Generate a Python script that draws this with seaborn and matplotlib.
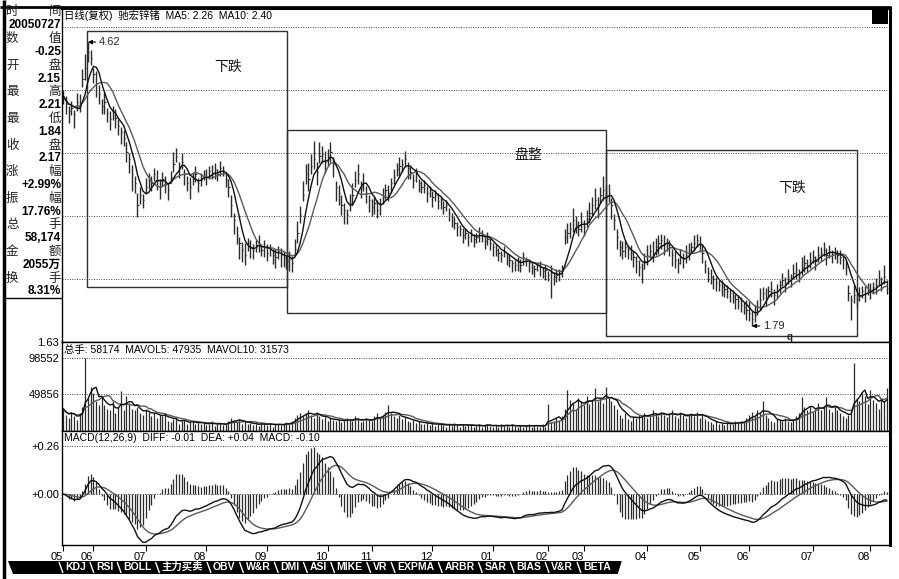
import numpy as np
import pandas as pd
import matplotlib
matplotlib.use("Agg")
import matplotlib.pyplot as plt
import seaborn as sns
from matplotlib.patches import Rectangle, Polygon
from matplotlib.lines import Line2D

# ---------------- data ----------------
close_c = [
    408, 400, 393, 396, 390, 402, 398, 425, 436, 452,
    446, 430, 421, 410, 398, 402, 391, 385, 392, 386,
    378, 372, 366, 352, 345, 330, 322, 300, 310, 305,
    318, 326, 322, 330, 324, 318, 326, 320, 315, 328,
    340, 348, 336, 342, 330, 322, 318, 326, 330, 322,
    325, 330, 328, 333, 331, 335, 330, 336, 334, 326,
    318, 300, 285, 270, 262, 255, 250, 262, 258, 255,
    260, 262, 255, 258, 252, 256, 250, 248, 254, 250,
    248, 244, 246, 242, 256, 272, 290, 310, 330, 326,
    338, 345, 332, 348, 350, 342, 346, 352, 340, 318,
    312, 300, 295, 290, 302, 310, 325, 330, 318, 322,
    312, 305, 298, 302, 295, 300, 308, 315, 312, 322,
    328, 335, 338, 340, 345, 336, 332, 325, 330, 322,
    318, 320, 312, 315, 308, 310, 304, 305, 298, 300,
    292, 288, 282, 278, 276, 270, 272, 268, 270, 266,
    268, 272, 270, 264, 266, 262, 258, 255, 252, 250,
    254, 248, 245, 242, 240, 244, 240, 248, 245, 242,
    238, 236, 240, 238, 234, 235, 230, 232, 228, 230,
    232, 234, 268, 272, 276, 285, 280, 276, 283, 278,
    286, 292, 300, 305, 298, 310, 315, 308, 312, 300,
    285, 268, 258, 254, 258, 255, 252, 248, 244, 238,
    236, 244, 250, 254, 252, 258, 262, 265, 260, 262,
    258, 250, 245, 242, 248, 246, 250, 255, 258, 262,
    265, 262, 252, 240, 232, 228, 226, 222, 220, 218,
    216, 214, 212, 208, 206, 204, 200, 198, 195, 192,
    186, 190, 198, 205, 212, 208, 214, 216, 210, 214,
    220, 225, 222, 228, 226, 232, 236, 230, 238, 242,
    240, 245, 248, 244, 250, 252, 255, 250, 254, 250,
    252, 250, 248, 245, 238, 212, 205, 210, 206, 210,
    214, 212, 216, 214, 218, 220, 226, 222, 228, 217,
]
high_above_close_c = [
    6, 8, 5, 7, 4, 9, 12, 10, 14, 10,
    8, 6, 12, 9, 7, 10, 5, 8, 6, 9,
    7, 5, 8, 10, 6, 9, 7, 12, 8, 6,
    9, 5, 7, 6, 10, 8, 6, 9, 7, 5,
    12, 8, 6, 9, 5, 7, 10, 6, 8, 5,
    6, 4, 7, 5, 8, 6, 5, 7, 4, 6,
    8, 10, 7, 9, 6, 8, 12, 5, 7, 6,
    5, 8, 6, 7, 9, 5, 6, 8, 5, 7,
    6, 5, 8, 7, 10, 12, 9, 14, 10, 15,
    12, 18, 10, 14, 8, 11, 9, 10, 7, 6,
    8, 10, 7, 6, 9, 12, 8, 10, 6, 9,
    7, 5, 8, 6, 10, 7, 9, 6, 8, 5,
    7, 6, 9, 5, 8, 6, 7, 5, 6, 4,
    6, 5, 7, 4, 6, 5, 8, 4, 6, 5,
    5, 4, 6, 5, 4, 7, 5, 4, 6, 5,
    4, 6, 5, 4, 7, 5, 4, 6, 5, 4,
    5, 4, 6, 3, 5, 4, 6, 5, 3, 4,
    5, 4, 3, 6, 4, 5, 4, 8, 5, 6,
    4, 6, 8, 10, 7, 12, 9, 8, 10, 7,
    9, 11, 8, 12, 10, 8, 14, 12, 9, 7,
    6, 8, 7, 10, 6, 5, 8, 6, 5, 7,
    6, 8, 10, 7, 12, 9, 8, 6, 10, 5,
    7, 6, 9, 5, 8, 6, 10, 7, 5, 8,
    6, 7, 9, 5, 6, 8, 4, 6, 5, 7,
    5, 6, 4, 7, 5, 6, 8, 5, 10, 12,
    8, 10, 7, 12, 6, 9, 5, 8, 6, 7,
    5, 7, 6, 8, 5, 9, 7, 6, 10, 8,
    6, 8, 7, 5, 9, 6, 8, 7, 6, 5,
    6, 5, 7, 4, 6, 8, 5, 10, 6, 8,
    5, 7, 6, 8, 5, 7, 9, 6, 12, 8,
]
low_below_close_c = [
    8, 10, 12, 7, 14, 9, 6, 8, 12, 10,
    7, 9, 14, 10, 8, 12, 9, 11, 8, 10,
    9, 12, 8, 10, 14, 16, 10, 12, 9, 8,
    7, 10, 8, 6, 9, 12, 7, 8, 10, 6,
    8, 6, 9, 7, 10, 8, 12, 6, 7, 9,
    6, 5, 8, 7, 5, 9, 6, 7, 5, 8,
    10, 12, 14, 9, 16, 12, 10, 8, 11, 9,
    7, 9, 6, 10, 8, 7, 9, 11, 8, 12,
    10, 8, 12, 9, 7, 10, 8, 6, 9, 12,
    8, 10, 12, 7, 9, 11, 8, 10, 12, 14,
    12, 10, 14, 9, 8, 10, 7, 9, 11, 8,
    10, 12, 9, 11, 8, 10, 7, 9, 8, 10,
    7, 6, 9, 8, 7, 10, 6, 8, 7, 9,
    6, 8, 9, 7, 10, 6, 8, 9, 7, 6,
    8, 10, 6, 9, 7, 8, 6, 9, 7, 8,
    6, 9, 7, 8, 6, 7, 9, 6, 8, 7,
    6, 8, 7, 9, 6, 10, 7, 8, 6, 9,
    7, 8, 6, 9, 7, 10, 6, 25, 8, 7,
    8, 6, 7, 10, 9, 12, 8, 7, 10, 9,
    8, 10, 12, 9, 11, 8, 10, 12, 9, 14,
    10, 12, 9, 8, 10, 9, 7, 10, 12, 9,
    14, 8, 10, 7, 9, 8, 11, 9, 10, 8,
    9, 11, 8, 10, 7, 9, 8, 10, 6, 8,
    7, 9, 10, 8, 9, 7, 10, 8, 6, 9,
    8, 7, 9, 6, 10, 8, 7, 7, 10, 8,
    7, 7, 8, 10, 7, 9, 6, 8, 10, 7,
    8, 6, 9, 7, 8, 6, 10, 7, 8, 9,
    7, 8, 6, 9, 7, 8, 6, 10, 7, 8,
    6, 8, 7, 9, 8, 8, 20, 8, 9, 6,
    7, 9, 6, 8, 7, 9, 6, 8, 7, 6,
]
volume_k = [
    30, 22, 18, 26, 20, 15, 24, 32, 98.552, 45,
    60, 52, 40, 35, 48, 35, 30, 28, 40, 25,
    32, 54, 28, 47, 38, 30, 28, 32, 25, 22,
    30, 26, 20, 24, 18, 22, 20, 24, 14, 12,
    16, 18, 10, 13, 15, 9, 12, 14, 10, 11,
    9, 12, 8, 10, 13, 7, 9, 11, 8, 10,
    14, 18, 15, 12, 16, 10, 13, 9, 11, 8,
    10, 7, 12, 9, 8, 11, 6, 9, 10, 8,
    9, 12, 10, 14, 18, 22, 25, 20, 24, 28,
    22, 18, 26, 20, 16, 19, 14, 17, 15, 13,
    16, 12, 14, 18, 15, 13, 20, 16, 12, 14,
    18, 15, 13, 20, 24, 18, 22, 26, 35, 24,
    20, 18, 22, 16, 19, 14, 12, 15, 11, 13,
    10, 9, 12, 8, 11, 7, 9, 10, 8, 6,
    9, 7, 11, 8, 6, 10, 7, 9, 8, 5,
    7, 9, 6, 8, 10, 7, 5, 8, 6, 9,
    7, 8, 6, 9, 7, 5, 8, 6, 7, 9,
    6, 8, 7, 5, 9, 6, 37, 12, 14, 18,
    15, 20, 30, 55, 42, 38, 30, 45, 40, 35,
    48, 36, 42, 58, 40, 45, 38, 59, 44, 40,
    35, 30, 22, 18, 25, 16, 14, 20, 18, 22,
    20, 25, 18, 22, 28, 24, 20, 26, 22, 19,
    24, 28, 20, 18, 26, 22, 17, 21, 25, 20,
    26, 18, 22, 16, 14, 12, 10, 13, 9, 11,
    8, 12, 10, 9, 13, 11, 14, 12, 18, 22,
    26, 20, 28, 24, 40, 22, 18, 14, 12, 16,
    15, 13, 17, 14, 12, 16, 20, 25, 46, 32,
    28, 34, 26, 30, 38, 28, 32, 46, 30, 26,
    34, 28, 24, 20, 18, 22, 30, 92, 45, 40,
    52, 48, 36, 55, 42, 38, 30, 45, 40, 58.174,
]
month_pos = [0, 11, 30, 52, 74, 96, 112, 134, 156, 176, 189, 212, 231, 249, 272, 293]
month_lab = ["05", "06", "07", "08", "09", "10", "11", "12", "01", "02", "03", "04", "05", "06", "07", "08"]

info_labels = [("时", "间"), ("数", "值"), ("开", "盘"), ("最", "高"), ("最", "低"), ("收", "盘"),
               ("涨", "幅"), ("振", "幅"), ("总", "手"), ("金", "额"), ("换", "手")]
info_values = ["20050727", "-0.25", "2.15", "2.21", "1.84", "2.17", "+2.99%", "17.76%", "58,174", "2055万", "8.31%"]
tab_labels = ["KDJ", "RSI", "BOLL", "主力买卖", "OBV", "W&R", "DMI", "ASI", "MIKE", "VR",
              "EXPMA", "ARBR", "SAR", "BIAS", "V&R", "BETA"]
price_header = "日线(复权)  驰宏锌锗  MA5: 2.26  MA10: 2.40"
vol_header = "总手: 58174  MAVOL5: 47935  MAVOL10: 31573"
macd_header = "MACD(12,26,9)  DIFF: -0.01  DEA: +0.04  MACD: -0.10"
price_axis_low = 1.63
vol_ticks = [49856, 98552]
macd_ticks = [0.0, 0.26]
macd_tick_lab = ["+0.00", "+0.26"]

# ---------------- derived series ----------------
n = len(close_c)
assert len(high_above_close_c) == n and len(low_below_close_c) == n and len(volume_k) == n
c = np.array(close_c, float)
df = pd.DataFrame({
    "i": np.arange(n),
    "close": c / 100,
    "high": (c + np.array(high_above_close_c)) / 100,
    "low": (c - np.array(low_below_close_c)) / 100,
    "vol": np.array(volume_k, float) * 1000,
})
df["ma5"] = df.close.rolling(5, min_periods=1).mean()
df["ma10"] = df.close.rolling(10, min_periods=1).mean()
df["mv5"] = df.vol.rolling(5, min_periods=1).mean()
df["mv10"] = df.vol.rolling(10, min_periods=1).mean()
ema12 = df.close.ewm(span=12, adjust=False).mean()
ema26 = df.close.ewm(span=26, adjust=False).mean()
df["diff"] = ema12 - ema26
df["dea"] = df["diff"].ewm(span=9, adjust=False).mean()
df["macd"] = 2 * (df["diff"] - df["dea"])

# ---------------- styling ----------------
sns.set_theme(style="white")
plt.rcParams["font.family"] = ["Liberation Sans", "Noto Sans CJK SC"]
plt.rcParams["axes.unicode_minus"] = False

W, H = 899, 579
fig = plt.figure(figsize=(W / 100, H / 100), dpi=100)
fig.patch.set_facecolor("white")


def rect(x0, y0, x1, y1):
    return [x0 / W, 1 - y1 / H, (x1 - x0) / W, (y1 - y0) / H]


def fx(x):
    return x / W


def fy(y):
    return 1 - y / H


def fline(x0, y0, x1, y1, lw=1.0, color="black", z=3):
    fig.add_artist(Line2D([fx(x0), fx(x1)], [fy(y0), fy(y1)], transform=fig.transFigure,
                          color=color, lw=lw, solid_capstyle="butt", zorder=z))


XL = (-0.4, n + 0.1)
BAR = "#2b2b2b"
GRID = dict(color="#444444", linestyle=(0, (1, 1.5)), linewidth=0.7)


def style_axes(ax):
    for s in ax.spines.values():
        s.set_color("black")
        s.set_linewidth(1.0)
    ax.spines["right"].set_linewidth(2.2)
    ax.set_xlim(*XL)
    ax.set_xlabel("")
    ax.set_ylabel("")
    ax.tick_params(axis="y", length=0, labelsize=8, pad=2, colors="black")
    ax.set_facecolor("white")


# ---- price panel ----
axp = fig.add_axes(rect(62, 8, 890, 342))
axp.vlines(df.i, df.low, df.high, color=BAR, lw=1.0)
axp.hlines(df.close, df.i, df.i + 0.45, color=BAR, lw=0.8)
sns.lineplot(data=df, x="i", y="ma10", ax=axp, color="#5a5a5a", lw=1.0)
sns.lineplot(data=df, x="i", y="ma5", ax=axp, color="#111111", lw=1.0)
style_axes(axp)
axp.spines["top"].set_linewidth(2.2)
axp.set_ylim(price_axis_low, 4.96)
levels = list(np.linspace(price_axis_low, 4.77, 6))
axp.set_yticks(levels)
axp.set_yticklabels(["%.2f" % price_axis_low] + [""] * 5)
for lv in levels[1:]:
    axp.axhline(lv, **GRID)
axp.set_xticks([])

# annotation boxes and labels
for (x0, x1, y0, y1) in [(8.7, 81.2, 2.18, 4.73), (81.2, 197.1, 1.92, 3.74), (197.1, 288.0, 1.69, 3.54)]:
    axp.add_patch(Rectangle((x0, y0), x1 - x0, y1 - y0, fill=False, edgecolor="#303030", lw=1.0, zorder=1))
for (tx, ty, s) in [(60.0, 4.37, "下跌"), (168.8, 3.49, "盘整"), (264.6, 3.17, "下跌")]:
    axp.text(tx, ty, s, fontsize=10, ha="center", va="center", color="#111111",
             family=["Noto Sans CJK SC"])

imax = int(df.high.idxmax())
imin = int(df.low.idxmin())
arrow = dict(arrowstyle="-|>", color="black", lw=0.8, mutation_scale=6, shrinkA=0, shrinkB=0)
axp.annotate("%.2f" % df.high.max(), xy=(imax, df.high.max()), xytext=(8, 0), textcoords="offset points",
             va="center", ha="left", fontsize=8, arrowprops=arrow)
axp.annotate("%.2f" % df.low.min(), xy=(imin, df.low.min()), xytext=(8, 0), textcoords="offset points",
             va="center", ha="left", fontsize=8, arrowprops=arrow)

# ---- volume panel ----
axv = fig.add_axes(rect(62, 342, 890, 431))
axv.vlines(df.i, 0, df.vol, color=BAR, lw=0.9)
sns.lineplot(data=df, x="i", y="mv10", ax=axv, color="#5a5a5a", lw=1.0)
sns.lineplot(data=df, x="i", y="mv5", ax=axv, color="#111111", lw=1.0)
style_axes(axv)
axv.set_ylim(0, 120400)
axv.set_yticks(vol_ticks)
axv.set_yticklabels([str(v) for v in vol_ticks])
for v in vol_ticks:
    axv.axhline(v, **GRID)
axv.set_xticks([])

# ---- MACD panel ----
axm = fig.add_axes(rect(62, 431, 890, 545))
axm.vlines(df.i, 0, df["macd"], color=BAR, lw=0.9)
sns.lineplot(data=df, x="i", y="dea", ax=axm, color="#5a5a5a", lw=1.0)
sns.lineplot(data=df, x="i", y="diff", ax=axm, color="#111111", lw=1.0)
style_axes(axm)
axm.set_ylim(-0.276, 0.341)
axm.set_yticks(macd_ticks)
axm.set_yticklabels(macd_tick_lab)
for v in macd_ticks:
    axm.axhline(v, **GRID)
axm.set_xticks(month_pos)
axm.set_xticklabels(month_lab, fontsize=8)
for t in axm.get_xticklabels():
    t.set_ha("right")
axm.tick_params(axis="x", length=4, width=0.8, direction="out", pad=1, colors="black", bottom=True)

for ax in (axp, axv, axm):
    ax.set_xlabel("")
    ax.set_ylabel("")

# ---- headers ----
fig.text(fx(64), fy(15), price_header, fontsize=7.5, va="center", ha="left", color="black")
fig.text(fx(64), fy(350), vol_header, fontsize=7.5, va="center", ha="left", color="black")
fig.text(fx(64), fy(438), macd_header, fontsize=7.5, va="center", ha="left", color="black")
fig.text(fx(790), fy(337), "q", fontsize=7, fontweight="bold", va="center", ha="center")
fig.add_artist(Rectangle((fx(872), fy(24)), fx(16), 16 / H, transform=fig.transFigure,
                         facecolor="black", edgecolor="none"))

# ---- info panel ----
step = 13.3
for k, ((a, b), val) in enumerate(zip(info_labels, info_values)):
    y = 12 + 2 * k * step
    fig.text(fx(6), fy(y), a, fontsize=9, ha="left", va="center", color="#222222",
             family=["Noto Sans CJK SC"])
    fig.text(fx(61), fy(y), b, fontsize=9, ha="right", va="center", color="#222222",
             family=["Noto Sans CJK SC"])
    fig.text(fx(61), fy(y + step), val, fontsize=8.5, fontweight="bold", ha="right", va="center",
             color="black")
fline(4, 0, 4, 579, lw=2.5)
fline(0, 6.5, 891, 6.5, lw=2)
fline(4, 298, 62, 298, lw=1.0)

# ---- bottom tabs ----
renderer = fig.canvas.get_renderer()
x = 62.0
ytab = 567
seps = []
for lab in tab_labels:
    t = fig.text(fx(x + 3), fy(ytab), lab, fontsize=7.5, fontweight="bold", color="white",
                 ha="left", va="center", zorder=5)
    w = t.get_window_extent(renderer).width
    seps.append(x)
    x += w + 10
x_end = x
fig.add_artist(Polygon([(fx(8), fy(561)), (fx(x_end + 4), fy(561)), (fx(x_end), fy(574)), (fx(13), fy(574))],
                       closed=True, transform=fig.transFigure, facecolor="black", edgecolor="none", zorder=2))
for sx in seps:
    fline(sx - 3, 562, sx + 1, 573, lw=1.0, color="white", z=4)

fig.savefig("out.png", dpi=100, facecolor="white")
